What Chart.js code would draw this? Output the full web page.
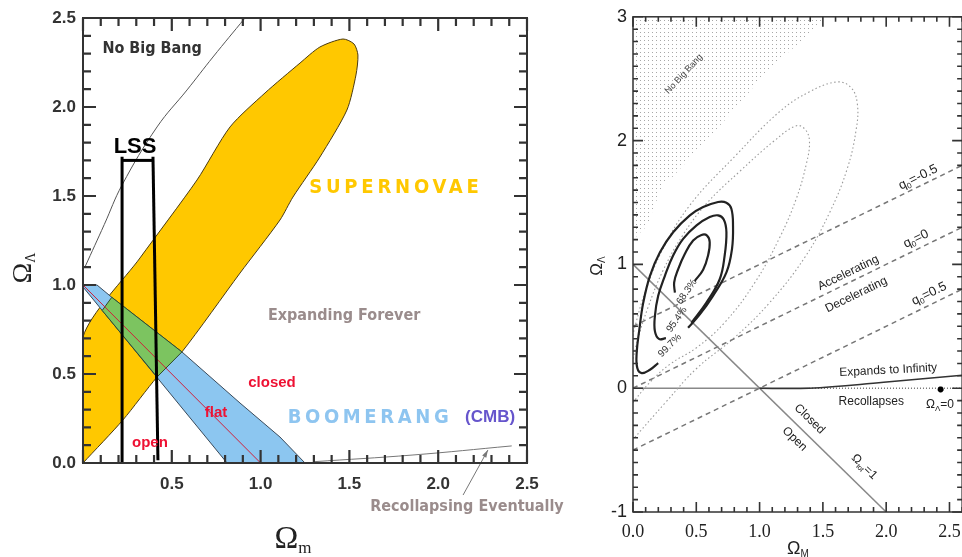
<!DOCTYPE html>
<html>
<head>
<meta charset="utf-8">
<script src="https://cdn.jsdelivr.net/npm/chart.js@4.4.0/dist/chart.umd.min.js"></script>
<style>
  html, body { margin: 0; padding: 0; background: #fff; overflow: hidden; }
  #wrap { position: relative; width: 962px; height: 557px; overflow: hidden; }
  .box { position: absolute; top: 0; }
</style>
</head>
<body>
<div id="wrap">
  <div class="box" style="left:0;width:580px;height:557px"><canvas id="chart-1" width="580" height="557"></canvas></div>
  <div class="box" style="left:580px;width:390px;height:557px"><canvas id="chart-2" width="390" height="557"></canvas></div>
</div>
<script>
// ===== bieu do trai: Boomerang + sieu tan tinh =====
var supernovae = [[0, 0], [0, 0.708], [0.321, 1.152], [0.642, 1.590], [0.828, 1.888], [1.025, 2.079], [1.222, 2.247],
  [1.334, 2.337], [1.464, 2.382], [1.526, 2.354], [1.548, 2.292], [1.537, 2.180], [1.486, 1.983], [1.334, 1.719],
  [1.182, 1.494], [1.109, 1.365], [0.884, 1.067], [0.557, 0.624], [0.417, 0.483], [0.225, 0.242], [0, 0]];
var boomerang = [[0, 0.989], [0.011, 1.0], [0.079, 1.0], [0.163, 0.930], [0.557, 0.624], [0.884, 0.337],
  [1.109, 0.146], [1.25, 0], [0.811, 0], [0, 0.989]];
var overlap = [[0.108, 0.857], [0.162, 0.931], [0.557, 0.624], [0.417, 0.483], [0.108, 0.857]];
var flatLine = [[0, 1], [1, 0]];
var lssLeft = [[0.22, 1.72], [0.22, -0.03]];
var lssRight = [[0.394, 1.72], [0.422, 0.015]];
var lssTop = [[0.22, 1.70], [0.394, 1.70]];
var noBigBangLeft = [[0.011, 1.101], [0.12, 1.34], [0.22, 1.562], [0.417, 1.888], [0.586, 2.096], [0.732, 2.281], [0.912, 2.5]];
var recollapseLeft = [[1.295, 0.007], [1.858, 0.045], [2.414, 0.096]];

var leftXValues = [0.5, 1.0, 1.5, 2.0, 2.5];
var leftXLabels = ['0.5', '1.0', '1.5', '2.0', '2.5'];
var leftYValues = [0, 0.5, 1.0, 1.5, 2.0, 2.5];
var leftYLabels = ['0.0', '0.5', '1.0', '1.5', '2.0', '2.5'];

// ===== bieu do phai: Riess / Perlmutter =====
var noBigBangZone = [[0, 3], [0, 1.2], [0.11, 1.31], [0.236, 1.65], [0.315, 1.71], [0.606, 2.03], [0.843, 2.30],
  [1.055, 2.56], [1.37, 2.84], [1.50, 2.98], [1.52, 3], [0, 3]];
var contour683 = [[0.488, 0.867], [0.554, 0.957], [0.593, 1.071], [0.606, 1.179], [0.585, 1.233], [0.541, 1.238],
  [0.475, 1.193], [0.409, 1.084], [0.357, 0.962], [0.325, 0.854], [0.331, 0.772]];
var contour954 = [[0.462, 0.528], [0.580, 0.691], [0.685, 0.880], [0.724, 1.071], [0.738, 1.260], [0.717, 1.363],
  [0.672, 1.396], [0.606, 1.382], [0.502, 1.315], [0.396, 1.206], [0.317, 1.071], [0.252, 0.908], [0.199, 0.746],
  [0.173, 0.583], [0.173, 0.461], [0.205, 0.398], [0.260, 0.404]];
var contour997 = [[0.435, 0.488], [0.528, 0.596], [0.632, 0.746], [0.738, 0.935], [0.782, 1.124], [0.790, 1.315],
  [0.777, 1.450], [0.738, 1.498], [0.672, 1.504], [0.554, 1.463], [0.449, 1.396], [0.317, 1.260], [0.213, 1.098],
  [0.134, 0.908], [0.081, 0.691], [0.050, 0.474], [0.029, 0.285], [0.034, 0.163], [0.069, 0.122], [0.134, 0.149],
  [0.199, 0.203]];
var dottedOuter = [[-0.024, 0.329], [0.024, 0.530], [0.094, 0.771], [0.228, 1.108], [0.449, 1.478], [0.803, 1.871],
  [1.157, 2.233], [1.394, 2.394], [1.614, 2.474], [1.724, 2.426], [1.772, 2.297], [1.764, 2.096], [1.693, 1.775],
  [1.551, 1.414], [1.354, 1.052], [1.079, 0.691], [0.803, 0.410], [0.504, 0.161], [0.260, -0.112], [-0.024, -0.442]];
var dottedInner = [[-0.024, 0.112], [0.031, 0.369], [0.118, 0.651], [0.236, 0.948], [0.394, 1.237], [0.583, 1.494],
  [0.843, 1.751], [1.118, 2.0], [1.291, 2.120], [1.362, 2.088], [1.394, 1.992], [1.370, 1.815], [1.291, 1.534],
  [1.157, 1.213], [0.961, 0.851], [0.724, 0.530], [0.504, 0.329], [0.291, 0.193], [0.134, 0.048], [-0.024, -0.145]];
var q0Minus = [[0, 0.5], [2.6, 1.8]];
var q0Zero = [[0, 0], [2.6, 1.3]];
var q0Plus = [[0, -0.5], [2.6, 0.8]];
var flatTot = [[0, 1], [2, -1]];
var zeroSolid = [[0, 0], [1.39, 0]];
var zeroDotted = [[1.39, 0], [2.6, 0]];
var expandEdge = [[1.0, 0], [1.39, 0.0], [1.98, 0.048], [2.6, 0.105]];
var lambdaZeroPoint = [[2.43, -0.01]];

var rightXValues = [0, 0.5, 1.0, 1.5, 2.0, 2.5];
var rightXLabels = ['0.0', '0.5', '1.0', '1.5', '2.0', '2.5'];
var rightYValues = [-1, 0, 1, 2, 3];
var rightYLabels = ['-1', '0', '1', '2', '3'];

// ---------------------------------------------------------
var COND = "'Liberation Sans Narrow', 'DejaVu Sans Condensed', 'Liberation Sans', sans-serif";
var SANS = "'Liberation Sans', Arial, sans-serif";
var SERIF = "'Liberation Serif', 'DejaVu Serif', serif";

function pts(arr) {
  return arr.map(function (p) { return { x: p[0], y: p[1] }; });
}
function line(arr, color, width, dash) {
  return { data: pts(arr), borderColor: color, borderWidth: width, borderDash: dash || [], pointRadius: 0, fill: false, tension: 0 };
}
function curve(arr, color, width, dash) {
  var d = line(arr, color, width, dash);
  d.tension = 0.4;
  return d;
}
function area(arr, fillColor, lineColor, tension) {
  return { data: pts(arr), borderColor: lineColor, borderWidth: 1, backgroundColor: fillColor, fill: 'shape', pointRadius: 0, tension: tension || 0 };
}
// ve theo thu tu: phan tu dau nam duoi cung
function stack(list) {
  list.forEach(function (d, i) { d.order = list.length - i; });
  return list;
}

function drawRich(ctx, x, y, n) {
  var parts = n.parts || [{ t: n.text }];
  ctx.save();
  ctx.translate(x, y);
  if (n.rot) ctx.rotate(n.rot * Math.PI / 180);
  ctx.fillStyle = n.color || '#000';
  ctx.textBaseline = 'middle';
  ctx.textAlign = 'left';
  ctx.letterSpacing = n.spacing || '0px';
  var widths = [], total = 0;
  parts.forEach(function (p) {
    ctx.font = p.font || n.font;
    var w = ctx.measureText(p.t).width;
    widths.push(w);
    total += w;
  });
  var cx = -total / 2;
  parts.forEach(function (p, i) {
    ctx.font = p.font || n.font;
    ctx.fillText(p.t, cx, p.dy || 0);
    cx += widths[i];
  });
  ctx.letterSpacing = '0px';
  ctx.restore();
}

// khung + vach chia huong vao trong (vi tri lay tu truc cua Chart.js)
function makeFrame(f) {
  return {
    id: 'frame',
    afterDraw: function (chart) {
      var ctx = chart.ctx, a = chart.chartArea;
      var sx = chart.scales.x, sy = chart.scales.y;
      var i, p, len;
      ctx.save();
      ctx.setLineDash([]);
      ctx.globalAlpha = 1;
      ctx.strokeStyle = f.color;
      ctx.lineWidth = f.tickWidth;
      for (i = 0; i <= f.xCount; i++) {
        len = (i % f.xEvery === 0) ? f.bigLen : f.smallLen;
        p = sx.getPixelForValue(sx.min + i * f.xStep);
        ctx.beginPath();
        ctx.moveTo(p, a.bottom); ctx.lineTo(p, a.bottom - len);
        ctx.moveTo(p, a.top); ctx.lineTo(p, a.top + len);
        ctx.stroke();
      }
      for (i = 0; i <= f.yCount; i++) {
        len = (i % f.yEvery === 0) ? f.bigLen : f.smallLen;
        p = sy.getPixelForValue(sy.min + i * f.yStep);
        ctx.beginPath();
        ctx.moveTo(a.left, p); ctx.lineTo(a.left + len, p);
        ctx.moveTo(a.right, p); ctx.lineTo(a.right - len, p);
        ctx.stroke();
      }
      ctx.lineWidth = f.width;
      ctx.strokeRect(a.left, a.top, a.right - a.left, a.bottom - a.top);
      ctx.restore();
    }
  };
}

var notesPlugin = {
  id: 'notes',
  afterDraw: function (chart, args, o) {
    var ctx = chart.ctx;
    var sx = chart.scales.x, sy = chart.scales.y;
    (o.items || []).forEach(function (n) {
      drawRich(ctx, sx.getPixelForValue(n.at[0]), sy.getPixelForValue(n.at[1]), n);
    });
    (o.fixed || []).forEach(function (n) {
      drawRich(ctx, n.px[0], n.px[1], n);
    });
    (o.arrows || []).forEach(function (ar) {
      var x1 = sx.getPixelForValue(ar.from[0]), y1 = sy.getPixelForValue(ar.from[1]);
      var x2 = sx.getPixelForValue(ar.to[0]), y2 = sy.getPixelForValue(ar.to[1]);
      var ang = Math.atan2(y2 - y1, x2 - x1);
      ctx.save();
      ctx.strokeStyle = ar.color; ctx.fillStyle = ar.color; ctx.lineWidth = 1;
      ctx.beginPath(); ctx.moveTo(x1, y1); ctx.lineTo(x2, y2); ctx.stroke();
      ctx.beginPath();
      ctx.moveTo(x2, y2);
      ctx.lineTo(x2 - 8 * Math.cos(ang - 0.3), y2 - 8 * Math.sin(ang - 0.3));
      ctx.lineTo(x2 - 8 * Math.cos(ang + 0.3), y2 - 8 * Math.sin(ang + 0.3));
      ctx.closePath(); ctx.fill();
      ctx.restore();
    });
  }
};

function axisScale(min, max, values, labels, font, color, pad, fit) {
  return {
    type: 'linear', min: min, max: max,
    grid: { display: false, drawTicks: false },
    border: { display: false },
    afterBuildTicks: function (s) { s.ticks = values.map(function (v) { return { value: v }; }); },
    afterFit: fit,
    ticks: {
      autoSkip: false, maxRotation: 0, padding: pad, color: color, font: font,
      callback: function (v, i) { return labels[i]; }
    }
  };
}

// ---------------- left chart ----------------
var leftChart = new Chart(document.getElementById('chart-1').getContext('2d'), {
  type: 'line',
  data: {
    datasets: stack([
      area(supernovae, 'rgb(255,200,0)', '#4a3a10', 0.25),
      area(boomerang, 'rgb(140,198,240)', '#3a4a5a', 0),
      area(overlap, 'rgb(124,196,96)', '#2e4a2e', 0),
      line(flatLine, '#d0203a', 1),
      curve(noBigBangLeft, '#555', 1),
      curve(recollapseLeft, '#777', 1),
      line(lssLeft, '#000', 3),
      line(lssRight, '#000', 3),
      line(lssTop, '#000', 3)
    ])
  },
  options: {
    responsive: false, animation: false,
    layout: { padding: { left: 0, top: 18, right: 53, bottom: 0 } },
    scales: {
      x: axisScale(0, 2.5, leftXValues, leftXLabels, { family: SANS, size: 17, weight: 'bold' }, '#333', 11,
        function (s) { s.height = 94; }),
      y: axisScale(0, 2.5, leftYValues, leftYLabels, { family: SANS, size: 17, weight: 'bold' }, '#333', 7,
        function (s) { s.width = 83; })
    },
    plugins: {
      legend: { display: false }, tooltip: { enabled: false },
      notes: {
        items: [
          { at: [0.389, 2.326], text: 'No Big Bang', font: 'bold 16px ' + COND, color: '#333' },
          { at: [0.293, 1.775], text: 'LSS', font: 'bold 22px ' + SANS, color: '#000' },
          { at: [1.762, 1.545], text: 'SUPERNOVAE', font: 'bold 20px ' + COND, color: 'rgb(255,200,0)', spacing: '3.8px' },
          { at: [1.470, 0.826], text: 'Expanding Forever', font: 'bold 16px ' + COND, color: '#9a8c8c' },
          { at: [1.064, 0.449], text: 'closed', font: 'bold 15px ' + SANS, color: '#ee1133' },
          { at: [0.749, 0.281], text: 'flat', font: 'bold 15px ' + SANS, color: '#ee1133' },
          { at: [0.377, 0.112], text: 'open', font: 'bold 15px ' + SANS, color: '#ee1133' },
          { at: [1.616, 0.253], text: 'BOOMERANG', font: 'bold 20px ' + COND, color: 'rgb(142,197,240)', spacing: '3.6px' },
          { at: [2.292, 0.258], text: '(CMB)', font: 'bold 17px ' + SANS, color: '#6655cc' },
          { at: [2.162, -0.247], text: 'Recollapsing Eventually', font: 'bold 16px ' + COND, color: '#9a8c8c' }
        ],
        fixed: [
          { px: [24, 268], rot: -90, color: '#222', parts: [{ t: 'Ω', font: '28px ' + SERIF }, { t: 'Λ', font: '14px ' + SERIF, dy: 7 }] },
          { px: [293, 540], color: '#222', parts: [{ t: 'Ω', font: '32px ' + SERIF }, { t: 'm', font: '17px ' + SERIF, dy: 9 }] }
        ],
        arrows: [{ from: [2.14, -0.18], to: [2.28, 0.073], color: '#777' }]
      }
    }
  },
  plugins: [notesPlugin, makeFrame({ color: '#333', width: 2, tickWidth: 2.2, xStep: 0.1, xCount: 25, xEvery: 5,
    yStep: 0.1, yCount: 25, yEvery: 5, bigLen: 13, smallLen: 8 })]
});

// ---------------- right chart ----------------
var dotCanvas = document.createElement('canvas');
dotCanvas.width = 4; dotCanvas.height = 4;
var dctx = dotCanvas.getContext('2d');
dctx.fillStyle = '#a8a8a8';
dctx.fillRect(0, 0, 1, 1);
var stipple = dctx.createPattern(dotCanvas, 'repeat');

var zoneSet = area(noBigBangZone, stipple, 'rgba(0,0,0,0)', 0);
zoneSet.borderWidth = 0;
var pointSet = line(lambdaZeroPoint, '#000', 1);
pointSet.pointRadius = 3;
pointSet.pointBackgroundColor = '#000';
pointSet.pointStyle = 'star';
pointSet.pointBorderWidth = 2;

var rightChart = new Chart(document.getElementById('chart-2').getContext('2d'), {
  type: 'line',
  data: {
    datasets: stack([
      zoneSet,
      line(zeroSolid, '#888', 1.5),
      line(zeroDotted, '#777', 1.5, [1, 2]),
      curve(dottedOuter, '#9a9a9a', 1.1, [1.5, 2.5]),
      curve(dottedInner, '#9a9a9a', 1.1, [1.5, 2.5]),
      line(q0Minus, '#777', 1.5, [5, 4]),
      line(q0Zero, '#777', 1.5, [5, 4]),
      line(q0Plus, '#777', 1.5, [5, 4]),
      line(flatTot, '#888', 1.5),
      curve(expandEdge, '#333', 1.5),
      curve(contour683, '#222', 2.2),
      curve(contour954, '#222', 2.2),
      curve(contour997, '#222', 2.2),
      pointSet
    ])
  },
  options: {
    responsive: false, animation: false,
    layout: { padding: { left: 0, top: 13, right: 7, bottom: 0 } },
    scales: {
      x: axisScale(0, 2.6, rightXValues, rightXLabels, { family: SERIF, size: 18 }, '#222', 9,
        function (s) { s.height = 45; }),
      y: axisScale(-1, 3, rightYValues, rightYLabels, { family: SANS, size: 18 }, '#222', 6,
        function (s) { s.width = 53; })
    },
    plugins: {
      legend: { display: false }, tooltip: { enabled: false },
      notes: {
        items: [
          { at: [0.402, 2.538], text: 'No Big Bang', font: '9px ' + SANS, color: '#444', rot: -47 },
          { at: [0.425, 0.779], text: '68.3%', font: '10px ' + SANS, color: '#333', rot: -55 },
          { at: [0.346, 0.554], text: '95.4%', font: '10px ' + SANS, color: '#333', rot: -55 },
          { at: [0.291, 0.345], text: '99.7%', font: '10px ' + SANS, color: '#333', rot: -45 },
          { at: [1.701, 0.932], text: 'Accelerating', font: '12px ' + SANS, color: '#222', rot: -26 },
          { at: [1.764, 0.755], text: 'Decelerating', font: '12px ' + SANS, color: '#222', rot: -26 },
          { at: [2.252, 1.703], rot: -26, color: '#222', parts: [{ t: 'q', font: '13px ' + SANS }, { t: '0', font: '8px ' + SANS, dy: 4 }, { t: '=-0.5', font: '13px ' + SANS }] },
          { at: [2.236, 1.205], rot: -26, color: '#222', parts: [{ t: 'q', font: '13px ' + SANS }, { t: '0', font: '8px ' + SANS, dy: 4 }, { t: '=0', font: '13px ' + SANS }] },
          { at: [2.339, 0.763], rot: -26, color: '#222', parts: [{ t: 'q', font: '13px ' + SANS }, { t: '0', font: '8px ' + SANS, dy: 4 }, { t: '=0.5', font: '13px ' + SANS }] },
          { at: [2.016, 0.145], text: 'Expands to Infinity', font: '12px ' + SANS, color: '#222', rot: -3 },
          { at: [1.882, -0.112], text: 'Recollapses', font: '12px ' + SANS, color: '#222' },
          { at: [2.425, -0.137], color: '#222', parts: [{ t: 'Ω', font: '12px ' + SANS }, { t: 'Λ', font: '8px ' + SANS, dy: 4 }, { t: '=0', font: '12px ' + SANS }] },
          { at: [1.394, -0.249], text: 'Closed', font: '12px ' + SANS, color: '#222', rot: 44 },
          { at: [1.276, -0.410], text: 'Open', font: '12px ' + SANS, color: '#222', rot: 44 },
          { at: [1.827, -0.635], rot: 44, color: '#222', parts: [{ t: 'Ω', font: '12px ' + SANS }, { t: 'tot', font: '7px ' + SANS, dy: 4 }, { t: '=1', font: '12px ' + SANS }] }
        ],
        fixed: [
          { px: [17, 266], rot: -90, color: '#222', parts: [{ t: 'Ω', font: '17px ' + SANS }, { t: 'Λ', font: '10px ' + SANS, dy: 5 }] },
          { px: [218, 549], color: '#222', parts: [{ t: 'Ω', font: '18px ' + SANS }, { t: 'M', font: '10px ' + SANS, dy: 5 }] }
        ]
      }
    }
  },
  plugins: [notesPlugin, makeFrame({ color: '#333', width: 1.5, tickWidth: 1.6, xStep: 0.1, xCount: 26, xEvery: 5,
    yStep: 0.1, yCount: 40, yEvery: 10, bigLen: 10, smallLen: 5 })]
});
</script>
</body>
</html>
